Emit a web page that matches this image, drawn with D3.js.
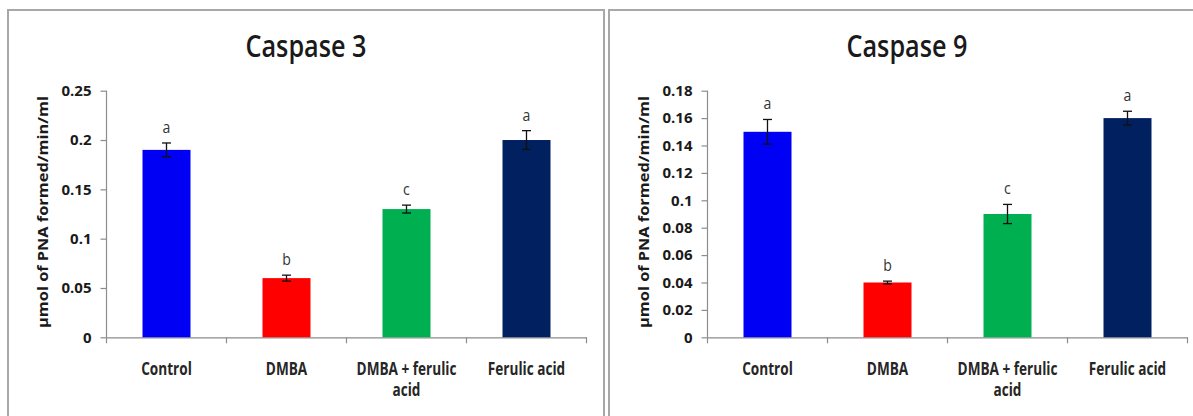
<!DOCTYPE html>
<html>
<head>
<meta charset="utf-8">
<script src="https://cdn.jsdelivr.net/npm/d3@7"></script>
<style>
  html, body { margin: 0; padding: 0; background: #fff; }
  svg { display: block; }
  text { font-family: "Open Sans", "Noto Sans", sans-serif; }
</style>
</head>
<body>
<svg id="chart" width="1193" height="416"></svg>
<script>
// ---------- data ----------
const categories = ["Control", "DMBA", "DMBA + ferulic acid", "Ferulic acid"];
const categoryLines = [["Control"], ["DMBA"], ["DMBA + ferulic", "acid"], ["Ferulic acid"]];
const barColors = ["#0000F5", "#FF0000", "#00B050", "#002060"];
const letters = ["a", "b", "c", "a"];

const caspase3Values = [0.19, 0.06, 0.13, 0.20];
const caspase3Errors = [0.007, 0.003, 0.004, 0.0095];
const caspase3Ticks = [0, 0.05, 0.1, 0.15, 0.2, 0.25];

const caspase9Values = [0.15, 0.04, 0.09, 0.16];
const caspase9Errors = [0.009, 0.001, 0.007, 0.005];
const caspase9Ticks = [0, 0.02, 0.04, 0.06, 0.08, 0.1, 0.12, 0.14, 0.16, 0.18];

const titles = ["Caspase 3", "Caspase 9"];
const yLabel = "\u00b5mol of PNA formed/min/ml";

// ---------- drawing ----------
const svg = d3.select("#chart");

function drawPanel(opts) {
  const { ox, panelW, title, values, errors, ticks } = opts;
  const g = svg.append("g").attr("transform", `translate(${ox},0)`);

  // panel border (open at the bottom / right edge of picture)
  g.append("rect")
    .attr("x", 0).attr("y", 10)
    .attr("width", panelW).attr("height", 430)
    .attr("fill", "none").attr("stroke", "#a8a8a8").attr("stroke-width", 2);

  const plotL = 98.5, plotR = 578.5, plotT = 90.7, plotB = 337.3;

  const x = d3.scaleBand().domain(categories).range([plotL, plotR])
    .paddingInner(0.6).paddingOuter(0.3);
  const y = d3.scaleLinear().domain([0, d3.max(ticks)]).range([plotB, plotT]);

  // title
  g.append("text")
    .attr("x", panelW / 2).attr("y", 57)
    .attr("text-anchor", "middle")
    .attr("font-size", 30).attr("font-weight", 600).attr("fill", "#1a1a1a")
    .attr("textLength", 121).attr("lengthAdjust", "spacingAndGlyphs")
    .text(title);

  // y axis
  const yAxis = g.append("g").attr("transform", `translate(${plotL},0)`)
    .call(d3.axisLeft(y).tickValues(ticks).tickFormat(d => String(d)).tickSize(6).tickPadding(9));
  yAxis.select(".domain").remove();
  g.append("line")
    .attr("x1", plotL).attr("x2", plotL).attr("y1", y(0)).attr("y2", y(d3.max(ticks)))
    .attr("stroke", "#8c8c8c").attr("stroke-width", 1.2);
  yAxis.selectAll("line").attr("stroke", "#8c8c8c").attr("stroke-width", 1.2);
  yAxis.selectAll("text").attr("font-size", 15).attr("font-weight", "bold")
    .attr("fill", "#1a1a1a").style("font-family", "'Open Sans', sans-serif");

  // x axis line + boundary ticks
  const xAxis = g.append("g").attr("transform", `translate(0,${plotB})`)
    .call(d3.axisBottom(x).tickSize(0).tickFormat(""));
  xAxis.select("path").attr("stroke", "#8c8c8c").attr("stroke-width", 1.2);
  const bounds = d3.range(categories.length + 1).map(i => plotL + i * x.step());
  g.selectAll(".xtick").data(bounds).join("line")
    .attr("x1", d => d).attr("x2", d => d)
    .attr("y1", plotB).attr("y2", plotB + 6)
    .attr("stroke", "#8c8c8c").attr("stroke-width", 1.2);

  // category labels
  const lbl = g.selectAll(".cat").data(categories).join("text")
    .attr("text-anchor", "middle")
    .attr("font-size", 17).attr("font-weight", "bold").attr("fill", "#262626")
    .attr("transform", d => `translate(${x(d) + x.bandwidth() / 2},0) scale(0.8,1)`);
  lbl.selectAll("tspan").data((d, i) => categoryLines[i]).join("tspan")
    .attr("x", 0).attr("y", (d, j) => 375 + j * 21)
    .text(d => d);

  // y label
  g.append("text")
    .attr("transform", `translate(40,${(plotT + plotB) / 2 - 2}) rotate(-90)`)
    .attr("text-anchor", "middle")
    .attr("font-size", 14).attr("font-weight", "bold").attr("fill", "#1a1a1a")
    .attr("textLength", 232).attr("lengthAdjust", "spacingAndGlyphs")
    .text(yLabel);

  // bars
  g.selectAll(".bar").data(categories).join("rect")
    .attr("x", d => x(d)).attr("width", x.bandwidth())
    .attr("y", (d, i) => y(values[i]))
    .attr("height", (d, i) => y(0) - y(values[i]))
    .attr("fill", (d, i) => barColors[i]);

  // error bars
  const eb = g.selectAll(".err").data(categories).join("g")
    .attr("stroke", "#111").attr("stroke-width", 1.3);
  const cx = d => x(d) + x.bandwidth() / 2;
  eb.append("line")
    .attr("x1", cx).attr("x2", cx)
    .attr("y1", (d, i) => y(values[i] + errors[i]))
    .attr("y2", (d, i) => y(values[i] - errors[i]));
  eb.append("line")
    .attr("x1", d => cx(d) - 4.5).attr("x2", d => cx(d) + 4.5)
    .attr("y1", (d, i) => y(values[i] + errors[i]))
    .attr("y2", (d, i) => y(values[i] + errors[i]));
  eb.append("line")
    .attr("x1", d => cx(d) - 4.5).attr("x2", d => cx(d) + 4.5)
    .attr("y1", (d, i) => y(values[i] - errors[i]))
    .attr("y2", (d, i) => y(values[i] - errors[i]));

  // significance letters
  g.selectAll(".letter").data(categories).join("text")
    .attr("x", cx)
    .attr("y", (d, i) => y(values[i] + errors[i]) - 10)
    .attr("text-anchor", "middle")
    .attr("font-size", 16).attr("fill", "#333")
    .attr("transform", d => `translate(${cx(d) * 0.12},0) scale(0.88,1)`)
    .text((d, i) => letters[i]);
}

drawPanel({ ox: 8, panelW: 596, title: titles[0], values: caspase3Values, errors: caspase3Errors, ticks: caspase3Ticks });
drawPanel({ ox: 609, panelW: 596, title: titles[1], values: caspase9Values, errors: caspase9Errors, ticks: caspase9Ticks });
</script>
</body>
</html>
